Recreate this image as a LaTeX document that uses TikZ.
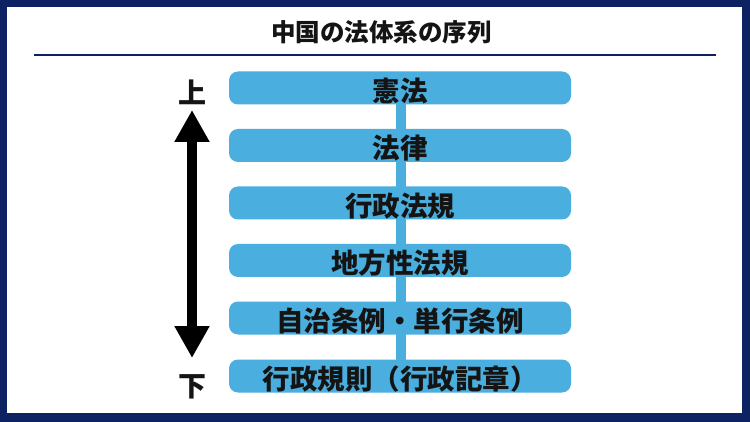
\documentclass[tikz,border=0pt]{standalone}
\usepackage{fontspec}
\newfontfamily\cjk{Noto Sans CJK JP}
\usetikzlibrary{arrows.meta}
\definecolor{navy}{RGB}{12,34,98}
\definecolor{sky}{RGB}{74,175,223}
\definecolor{ink}{RGB}{20,20,20}
\newcommand{\lowtext}[1]{\raisebox{-3pt}[\height][\depth]{#1}}
\tikzset{
  lawbox/.style={fill=sky, rounded corners=9pt, minimum width=342pt, minimum height=33pt, inner sep=0pt,
    font=\cjk\bfseries\fontsize{27.5}{27.5}\selectfont, text=ink},
  sidelabel/.style={font=\cjk\bfseries\fontsize{28}{28}\selectfont, text=ink, inner sep=0pt}
}
\begin{document}
\begin{tikzpicture}[x=1pt,y=-1pt]
\fill[navy] (0,0) rectangle (750,422);
\fill[white] (7,7) rectangle (742,413);
\useasboundingbox (0,0) rectangle (750,422);
\node[font=\cjk\bfseries\fontsize{24.5}{24.5}\selectfont, text=ink, inner sep=0pt] (title) at (381.5,32) {中国の法体系の序列};
\coordinate (ruleL) at (34,55);
\coordinate (ruleR) at (716,55);
\draw[navy, line width=2.5pt] (ruleL) -- (ruleR);
\coordinate (b1c) at (401,88);
\coordinate (b6c) at (401,376);
\draw[sky, line width=10pt] (b1c) -- (b6c);
\node[lawbox] (b1) at (400,88) {\lowtext{憲法}};
\node[lawbox] (b2) at (400,145.5) {\lowtext{法律}};
\node[lawbox] (b3) at (400,203) {\lowtext{行政法規}};
\node[lawbox] (b4) at (400,260.5) {\lowtext{地方性法規}};
\node[lawbox] (b5) at (400,318) {\lowtext{自治条例・単行条例}};
\node[lawbox] (b6) at (400,376) {\lowtext{行政規則（行政記章）}};
\node[sidelabel] (up) at (192,92) {上};
\node[sidelabel] (down) at (192,387) {下};
\coordinate (atop) at (192,110);
\coordinate (abot) at (192,358);
\draw[black, line width=10pt, {Triangle[width=33pt,length=32pt]}-{Triangle[width=33pt,length=32pt]}] (atop) -- (abot);
\end{tikzpicture}
\end{document}
